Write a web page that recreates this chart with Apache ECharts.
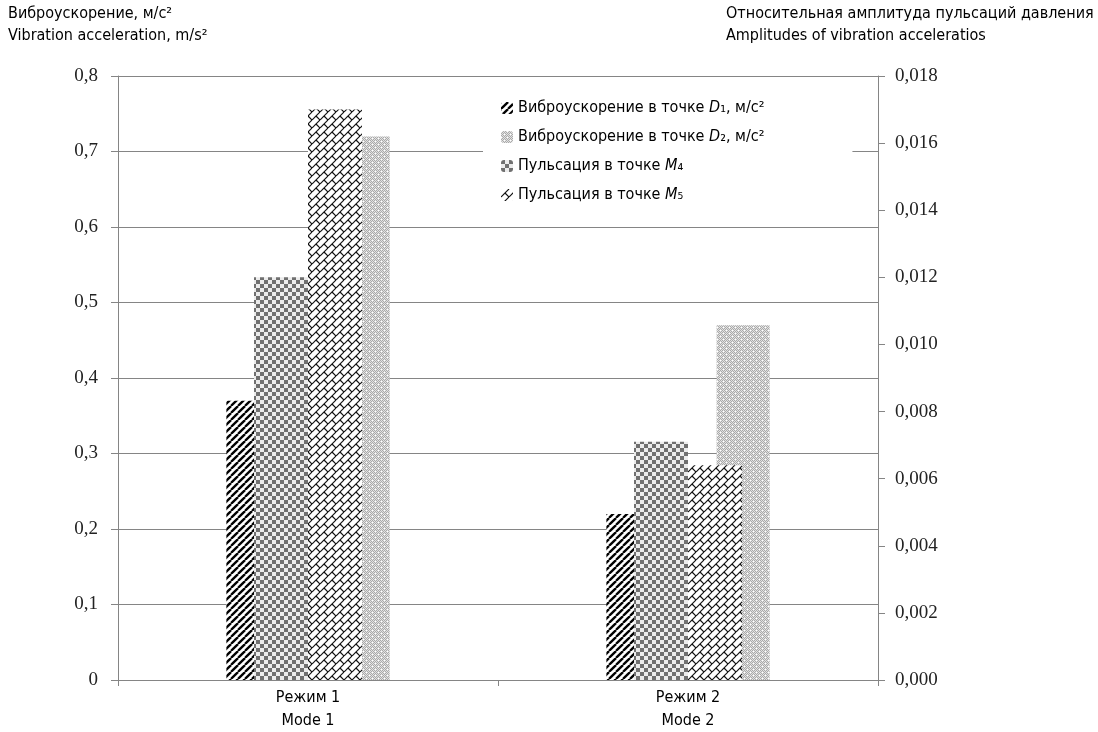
<!DOCTYPE html>
<html><head><meta charset="utf-8">
<script src="https://cdn.jsdelivr.net/npm/echarts@6/dist/echarts.min.js"></script>
<style>html,body{margin:0;padding:0;background:#fff}#c{width:1098px;height:732px}</style>
</head><body><div id="c"></div>
<script>
const categories = ['Режим 1\nMode 1', 'Режим 2\nMode 2'];
const d1Values = [0.37, 0.22];
const d2Values = [0.72, 0.47];
const m4Values = [0.012, 0.0071];
const m5Values = [0.017, 0.0064];
const leftTicks = {min: 0, max: 0.8, interval: 0.1};
const rightTicks = {min: 0, max: 0.018, interval: 0.002};
const leftTitle = ['Виброускорение, м/с²', 'Vibration acceleration, m/s²'];
const rightTitle = ['Относительная амплитуда пульсаций давления', 'Amplitudes of vibration acceleratios'];

const COND = "'Liberation Sans Narrow','DejaVu Sans Condensed','Roboto Condensed',sans-serif";
const SERIF = "'Liberation Serif','DejaVu Serif',serif";
const TITLE_FONT = '16px ' + COND;

function tile(w, h, draw) {
  const c = document.createElement('canvas'); c.width = w; c.height = h;
  const ctx = c.getContext('2d'); draw(ctx, w, h); return c;
}
const stripes = tile(7, 7, (ctx, s) => {
  ctx.fillStyle = '#fff'; ctx.fillRect(0, 0, s, s);
  ctx.strokeStyle = '#000'; ctx.lineWidth = 2.3;
  for (const o of [-s, 0, s]) { ctx.beginPath(); ctx.moveTo(o, s); ctx.lineTo(o + s, 0); ctx.stroke(); }
});
const checker = tile(8, 8, (ctx) => {
  ctx.fillStyle = '#ececec'; ctx.fillRect(0, 0, 8, 8);
  ctx.fillStyle = '#707070'; ctx.fillRect(0, 0, 4, 4); ctx.fillRect(4, 4, 4, 4);
});
const brick = tile(8, 8, (ctx) => {
  ctx.fillStyle = '#fff'; ctx.fillRect(0, 0, 8, 8);
  ctx.strokeStyle = '#111'; ctx.lineWidth = 1.2;
  for (const o of [-8, 0, 8]) { ctx.beginPath(); ctx.moveTo(o, 8); ctx.lineTo(o + 8, 0); ctx.stroke(); }
  ctx.beginPath(); ctx.moveTo(4, 4); ctx.lineTo(8, 8); ctx.stroke();
  ctx.beginPath(); ctx.moveTo(-4, -4); ctx.lineTo(0, 0); ctx.stroke();
});
const dots = tile(6, 6, (ctx) => {
  for (let y = 0; y < 6; y++) for (let x = 0; x < 6; x++) {
    ctx.fillStyle = ((x + y) % 2 === 0) ? '#a9a9a9' : '#e2e2e2';
    ctx.fillRect(x, y, 1, 1);
  }
  ctx.fillStyle = '#fff'; ctx.fillRect(3, 3, 1, 1); ctx.fillRect(0, 0, 1, 1);
});
const pat = (c) => ({image: c, repeat: 'repeat'});

const measure = document.createElement('canvas').getContext('2d');
measure.font = TITLE_FONT;
const rightTitleWidth = Math.max(...rightTitle.map(t => measure.measureText(t).width));

const legendLabels = {
  'D1': 'Виброускорение в точке {i|D}₁, м/с²',
  'D2': 'Виброускорение в точке {i|D}₂, м/с²',
  'M4': 'Пульсация в точке {i|M}₄',
  'M5': 'Пульсация в точке {i|M}₅'
};

const axisGray = '#858585';
const chart = echarts.init(document.getElementById('c'), null, {renderer: 'canvas'});
chart.setOption({
  animation: false,
  backgroundColor: '#fff',
  grid: {left: 118, right: 220, top: 76, bottom: 51, containLabel: false},
  graphic: [
    {type: 'text', left: 8, top: 3, style: {text: leftTitle.join('\n'), font: TITLE_FONT, lineHeight: 22, fill: '#000'}},
    {type: 'text', left: Math.round(1094 - rightTitleWidth), top: 3, style: {text: rightTitle.join('\n'), font: TITLE_FONT, lineHeight: 22, fill: '#000'}}
  ],
  legend: {
    orient: 'vertical', left: 483, top: 90, itemWidth: 12, itemHeight: 12, itemGap: 9,
    backgroundColor: '#fff', padding: [8, 88, 8, 18],
    data: ['D1', 'D2', 'M4', 'M5'],
    formatter: (n) => legendLabels[n],
    textStyle: {fontFamily: COND, fontSize: 16, color: '#000', lineHeight: 20,
      rich: {i: {fontFamily: COND, fontSize: 16, fontStyle: 'italic', color: '#000'}}}
  },
  xAxis: [
    {type: 'category', data: categories, gridIndex: 0,
      axisLine: {lineStyle: {color: axisGray, width: 1}},
      axisTick: {show: true, length: 6, lineStyle: {color: axisGray}},
      axisLabel: {fontFamily: COND, fontSize: 16, color: '#000', lineHeight: 23, margin: 6}},
    {type: 'category', data: categories, gridIndex: 0, show: false}
  ],
  yAxis: [
    {type: 'value', min: leftTicks.min, max: leftTicks.max, interval: leftTicks.interval, position: 'left',
      axisLine: {show: true, lineStyle: {color: axisGray}},
      axisTick: {show: true, length: 7, lineStyle: {color: axisGray}},
      splitLine: {show: true, lineStyle: {color: axisGray, width: 1}},
      axisLabel: {fontFamily: SERIF, fontSize: 19, color: '#222', margin: 20,
        formatter: (v) => v === 0 ? '0' : v.toFixed(1).replace('.', ',')}},
    {type: 'value', min: rightTicks.min, max: rightTicks.max, interval: rightTicks.interval, position: 'right',
      axisLine: {show: true, lineStyle: {color: axisGray}},
      axisTick: {show: true, length: 7, lineStyle: {color: axisGray}},
      splitLine: {show: false},
      axisLabel: {fontFamily: SERIF, fontSize: 19, color: '#222', margin: 17,
        formatter: (v) => v.toFixed(3).replace('.', ',')}}
  ],
  series: [
    {name: 'D1', type: 'bar', xAxisIndex: 0, yAxisIndex: 0, data: d1Values, barWidth: 53, barGap: '108%',
      itemStyle: {color: pat(stripes)}},
    {name: 'D2', type: 'bar', xAxisIndex: 0, yAxisIndex: 0, data: d2Values, barWidth: 53, barGap: '108%',
      itemStyle: {color: pat(dots)}},
    {name: 'M4', type: 'bar', xAxisIndex: 1, yAxisIndex: 1, data: m4Values, barWidth: 54, barGap: 0,
      itemStyle: {color: pat(checker)}},
    {name: 'M5', type: 'bar', xAxisIndex: 1, yAxisIndex: 1, data: m5Values, barWidth: 54, barGap: 0,
      itemStyle: {color: pat(brick)}}
  ]
});
</script></body></html>
